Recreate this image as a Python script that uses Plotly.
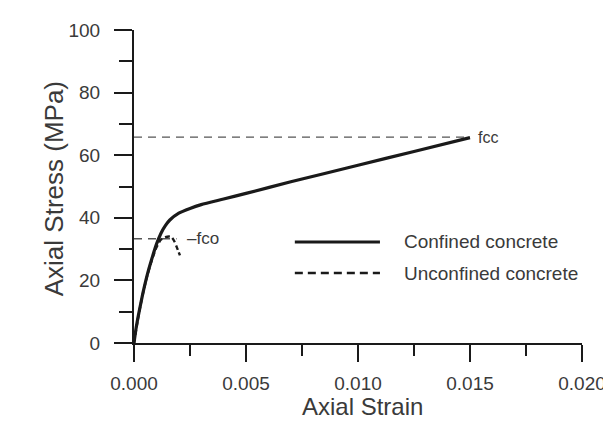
import plotly.graph_objects as go

# ---- data ----
conf_strain = [0.0, 0.0001, 0.0002, 0.0004, 0.0006, 0.0008, 0.0010, 0.0012, 0.0014, 0.0016,
               0.0020, 0.0025, 0.0030, 0.0040, 0.0050, 0.0070, 0.0100, 0.0125, 0.0150]
conf_stress = [0.0, 5.0, 9.0, 16.0, 22.0, 27.0, 31.5, 35.0, 37.5, 39.3,
               41.5, 43.0, 44.2, 46.0, 47.8, 51.5, 56.8, 61.2, 65.6]

unc_strain = [0.0, 0.0002, 0.0004, 0.0006, 0.0008, 0.0010, 0.0012, 0.0014, 0.0016, 0.0017, 0.0018, 0.0019, 0.00205]
unc_stress = [0.0, 8.7, 15.8, 21.8, 26.6, 30.5, 33.0, 33.8, 34.0, 33.6, 32.5, 30.8, 28.0]

fcc = 65.8
eps_cc = 0.0150
fco = 33.3
eps_co_line = 0.0019

x_ticks = [0.0, 0.005, 0.010, 0.015, 0.020]
y_ticks = [0, 20, 40, 60, 80, 100]

legend_names = ["Confined concrete", "Unconfined concrete"]
x_title = "Axial Strain"
y_title = "Axial Stress (MPa)"

FONT = "Liberation Sans, Arial, sans-serif"
TXT = "#3a3a3a"
INK = "#1a1a1a"

fig = go.Figure()

# reference dashed lines
fig.add_trace(go.Scatter(x=[0, eps_cc], y=[fcc, fcc], mode="lines",
                         line=dict(color="#555555", width=1.3, dash="8px,6px"),
                         showlegend=False, hoverinfo="skip"))
fig.add_trace(go.Scatter(x=[0, eps_co_line], y=[fco, fco], mode="lines",
                         line=dict(color="#555555", width=1.3, dash="8px,6px"),
                         showlegend=False, hoverinfo="skip"))

# curves
fig.add_trace(go.Scatter(x=conf_strain, y=conf_stress, mode="lines",
                         line=dict(color=INK, width=3.2, shape="spline", smoothing=0.6),
                         name=legend_names[0], showlegend=False))
fig.add_trace(go.Scatter(x=unc_strain, y=unc_stress, mode="lines",
                         line=dict(color=INK, width=2.4, dash="5px,3px", shape="spline", smoothing=0.6),
                         name=legend_names[1], showlegend=False))

# labels
fig.add_annotation(x=eps_cc, y=fcc, text="fcc", showarrow=False, xanchor="left", xshift=6,
                   font=dict(family=FONT, size=16, color=TXT))
fig.add_annotation(x=eps_co_line, y=fco, text="–fco", showarrow=False, xanchor="left", xshift=8,
                   font=dict(family=FONT, size=17, color=TXT))

# manual legend (paper coordinates)
fig.add_shape(type="line", xref="paper", yref="paper", x0=0.359, x1=0.549, y0=0.3227, y1=0.3227,
              line=dict(color=INK, width=3.2))
fig.add_shape(type="line", xref="paper", yref="paper", x0=0.359, x1=0.549, y0=0.2236, y1=0.2236,
              line=dict(color=INK, width=2.4, dash="8px,5px"))
fig.add_annotation(xref="paper", yref="paper", x=0.598, y=0.3227, text=legend_names[0],
                   showarrow=False, xanchor="left", yanchor="middle",
                   font=dict(family=FONT, size=19, color=TXT))
fig.add_annotation(xref="paper", yref="paper", x=0.598, y=0.2236, text=legend_names[1],
                   showarrow=False, xanchor="left", yanchor="middle",
                   font=dict(family=FONT, size=19, color=TXT))

# axis titles
fig.add_annotation(xref="paper", yref="paper", x=0.509, y=-0.250, text=x_title,
                   showarrow=False, xanchor="center", yanchor="bottom", borderpad=0,
                   font=dict(family=FONT, size=24, color=TXT))
fig.add_annotation(xref="paper", yref="paper", x=-0.178, y=0.492, text=y_title, textangle=-90,
                   showarrow=False, xanchor="center", yanchor="middle",
                   font=dict(family=FONT, size=26, color=TXT))

# page body has an 8px margin: figure is 8px smaller so it fits the 611x422 window
fig.update_layout(
    width=603, height=414,
    margin=dict(l=126, r=29, t=22, b=79),
    paper_bgcolor="white", plot_bgcolor="white",
    font=dict(family=FONT, color=TXT),
    showlegend=False,
)

fig.update_xaxes(
    range=[0, 0.020], tickvals=x_ticks, tickformat=".3f", automargin=False,
    showgrid=False, zeroline=False,
    showline=True, linecolor=INK, linewidth=2,
    ticks="outside", ticklen=17, tickwidth=2, tickcolor=INK,
    minor=dict(dtick=0.0025, ticks="outside", ticklen=11, tickwidth=2, tickcolor=INK, showgrid=False),
    tickfont=dict(family=FONT, size=19, color=TXT), ticklabelstandoff=5,
)
fig.update_yaxes(
    range=[0, 100], tickvals=y_ticks, automargin=False,
    showgrid=False, zeroline=False,
    showline=True, linecolor=INK, linewidth=2,
    ticks="outside", ticklen=18, tickwidth=2, tickcolor=INK,
    minor=dict(dtick=10, ticks="outside", ticklen=13, tickwidth=2, tickcolor=INK, showgrid=False),
    tickfont=dict(family=FONT, size=19, color=TXT), ticklabelstandoff=10,
)

fig.write_html("out.html")
